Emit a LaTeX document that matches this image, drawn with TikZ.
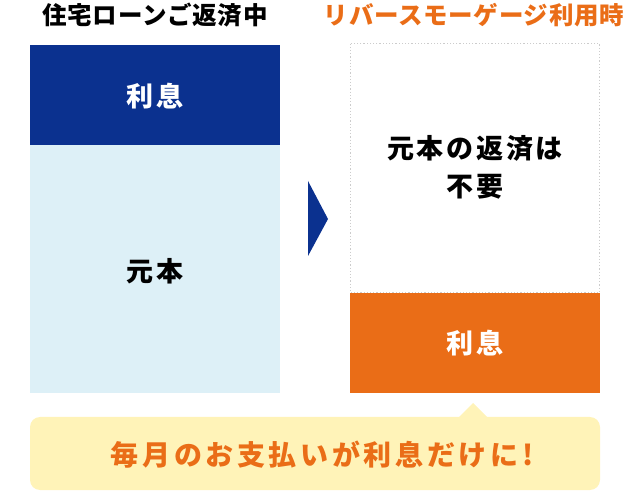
\documentclass[tikz,border=0pt]{standalone}
\usepackage{fontspec}
\setmainfont{Noto Sans CJK JP}
\newfontfamily\jpb{Noto Sans CJK JP}[BoldFont={* Black}]
\definecolor{dblue}{HTML}{0B318F}
\definecolor{lblue}{HTML}{DDF0F7}
\definecolor{orng}{HTML}{EA6D17}
\definecolor{ylw}{HTML}{FFF3B8}
\definecolor{dotgray}{HTML}{CCCCCC}
\begin{document}
\begin{tikzpicture}[x=1pt,y=-1pt,
  title/.style={font=\jpb\bfseries\fontsize{24.5}{28}\selectfont\addfontfeatures{LetterSpace=3}, inner sep=0pt},
  boxlabel/.style={font=\jpb\bfseries\fontsize{27}{38}\selectfont\addfontfeatures{LetterSpace=10}, inner sep=0pt, align=center},
  calltext/.style={font=\jpb\bfseries\fontsize{28}{30}\selectfont\addfontfeatures{LetterSpace=13}, inner sep=0pt, text=orng}]
\useasboundingbox (0,0) rectangle (630,497);
% left column
\fill[dblue] (30,45) rectangle (280,145);
\fill[lblue] (30,145) rectangle (280,393);
\node[boxlabel, text=white] (lint) at (155,96) {利息};
\node[boxlabel, text=black] (lprin) at (155,271) {元本};
\node[title] (ltitle) at (155,15) {住宅ローンご返済中};
% arrow
\fill[dblue] (308,181) -- (328,219) -- (308,256) -- cycle;
% right column
\draw[dotgray, line width=1.2pt, dash pattern=on 1.2pt off 2pt] (350.6,43.6) rectangle (599.4,293);
\fill[orng] (350,293) rectangle (600,393);
\node[boxlabel, text=white] (rint) at (475,343) {利息};
\node[boxlabel, text=black] (rprin) at (475,167) {元本の返済は\\不要};
\node[title, text=orng] (rtitle) at (474,15) {リバースモーゲージ利用時};
% callout
\fill[ylw, rounded corners=10pt] (30,417) rectangle (600,490);
\fill[ylw] (458,418) -- (473,403) -- (488,418) -- cycle;
\node[calltext] (msg) at (322,455) {毎月のお支払いが利息だけに!};
\end{tikzpicture}
\end{document}
